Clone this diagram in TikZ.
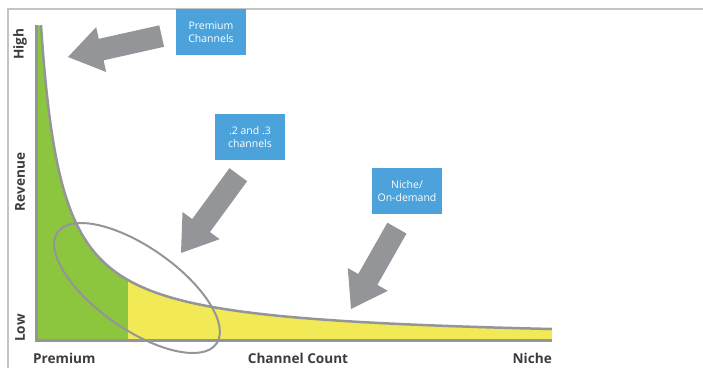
\documentclass[tikz,border=0pt]{standalone}
\usepackage{fontspec}
\setmainfont{Open Sans}
\usetikzlibrary{calc}
\definecolor{axgray}{HTML}{939598}
\definecolor{framegray}{HTML}{C4C4C4}
\definecolor{fillgreen}{HTML}{8CC63F}
\definecolor{fillyellow}{HTML}{F1E955}
\definecolor{boxblue}{HTML}{4CA3DB}
\definecolor{labelgray}{HTML}{3C3C3E}
\newcommand\blockarrow[3]{%
  \fill[axgray, shift={(#1)}, rotate=#2]
    (0pt,0pt) -- (34pt,23pt) -- (34pt,11pt) -- (#3pt,11pt) -- (#3pt,-11pt)
    -- (34pt,-11pt) -- (34pt,-23pt) -- cycle;}
\tikzset{
  callout/.style={fill=boxblue, text=white, minimum width=70pt, minimum height=46pt,
    inner sep=0pt, align=center, font=\fontsize{10.5}{13}\selectfont},
  axlabel/.style={text=labelgray, font=\fontsize{13.6}{15}\bfseries\selectfont, inner sep=0pt},
}
\begin{document}
\begin{tikzpicture}[x=1pt,y=-1pt]
\useasboundingbox (0,0) rectangle (703,367);
% frame
\draw[framegray, line width=1.5pt] (8,370) -- (8,9) -- (706,9);
% fills
\fill[fillgreen] (36,340) -- (36,25.3)
  -- plot[domain=41:128, samples=150] (\x,{341.5-6641/(\x-20)}) -- (128,340) -- cycle;
\fill[fillyellow] (128,340)
  -- plot[domain=128:552, samples=150] (\x,{341.5-6641/(\x-20)}) -- (552,340) -- cycle;
% curve
\draw[axgray, line width=2.5pt] plot[domain=41:552, samples=300, smooth] (\x,{341.5-6641/(\x-20)});
% axes
\coordinate (otop) at (36,25);
\coordinate (orig) at (36,340);
\coordinate (xend) at (552,340);
\draw[axgray, line width=3pt] (otop) -- (orig) -- (xend);
% ellipse
\draw[axgray, line width=2pt, rotate around={-35:(137,288)}] (137,288) ellipse [x radius=97pt, y radius=41pt];
% block arrows
\coordinate (tip1) at (68,57);
\coordinate (tip2) at (181,253);
\coordinate (tip3) at (351,309);
\blockarrow{tip1}{12.6}{96}
\blockarrow{tip2}{53.8}{97}
\blockarrow{tip3}{60.4}{93}
% callout boxes
\node[callout] (b1) at (211,32) {Premium\\Channels};
\node[callout] (b2) at (250,137) {.2 and .3\\channels};
\node[callout] (b3) at (407,191) {Niche/\\On-demand};
% axis labels
\node[axlabel, rotate=90] (high) at (20,44) {High};
\node[axlabel, rotate=90] (rev) at (20,182) {Revenue};
\node[axlabel, rotate=90] (low) at (20,328) {Low};
\node[axlabel, anchor=west] (prem) at (33,358) {Premium};
\node[axlabel] (cc) at (298,358) {Channel Count};
\node[axlabel, anchor=east] (niche) at (552,358) {Niche};
\end{tikzpicture}
\end{document}
